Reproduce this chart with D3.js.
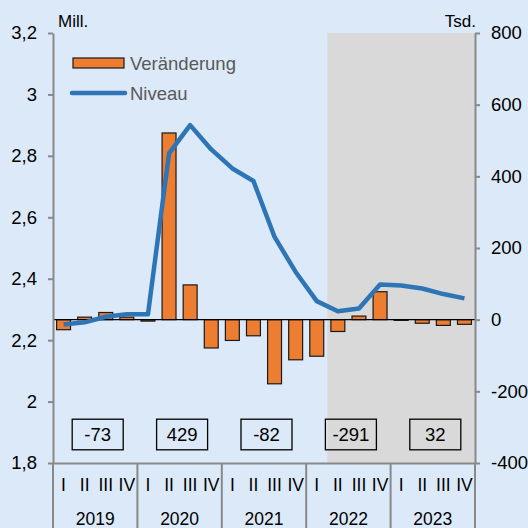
<!DOCTYPE html>
<html>
<meta charset="utf-8">
<style>
    body { margin: 0; background: #dce9f8; }
    svg { display: block; font-family: "Liberation Sans", Arial, sans-serif; }
</style>
<body>
<svg width="528" height="528"></svg>
<script src="https://d3js.org/d3.v7.min.js"></script>
<script>

    // data
    let years = ["2019", "2020", "2021", "2022", "2023"];
    let quarters = ["I", "II", "III", "IV"];
    // Veränderung (Tsd.), one value per quarter
    let changes = [-28, 7, 20, 7, -4, 521, 97, -79, -58, -45, -179, -112, -102, -33, 10, 78, -2, -10, -16, -13];
    // Niveau (Mill.), one value per quarter
    let levels = [2.251, 2.258, 2.276, 2.284, 2.284, 2.808, 2.900, 2.821, 2.759, 2.718, 2.536, 2.422,
        2.327, 2.294, 2.303, 2.381, 2.378, 2.368, 2.350, 2.336];
    // yearly figures shown in the boxes
    let yearBoxes = [-73, 429, -82, -291, 32];
    let leftTicks = [1.8, 2, 2.2, 2.4, 2.6, 2.8, 3, 3.2];
    let rightTicks = [-400, -200, 0, 200, 400, 600, 800];
    let shadeFrom = "2022-II";

    let svg = d3.select("svg"),
        margin = {top: 33, right: 53, bottom: 65, left: 53},
        width = +svg.attr("width") - margin.left - margin.right,
        height = +svg.attr("height") - margin.top - margin.bottom,
        g = svg.append("g").attr("transform", "translate(" + margin.left + "," + margin.top + ")");

    let keys = [];
    years.forEach(function (y) {
        quarters.forEach(function (q) { keys.push(y + "-" + q); });
    });

    let x = d3.scaleBand().domain(keys).range([0, width]).paddingInner(0.34).paddingOuter(0.17);
    let xYear = d3.scaleBand().domain(years).range([0, width]);
    let yL = d3.scaleLinear().domain([1.8, 3.2]).range([height, 0]);
    let yR = d3.scaleLinear().domain([-400, 800]).range([height, 0]);

    let step = x.step();
    let gap = (step - x.bandwidth()) / 2;

    svg.insert("rect", ":first-child")
        .attr("width", 528).attr("height", 528).attr("fill", "#dce9f8");

    // forecast shading
    g.append("rect")
        .attr("x", x(shadeFrom) - gap)
        .attr("y", 0)
        .attr("width", width - (x(shadeFrom) - gap))
        .attr("height", height)
        .attr("fill", "#d9d9d9");

    // bars
    g.append("g")
        .selectAll("rect")
        .data(changes)
        .enter().append("rect")
        .attr("x", function (d, i) { return x(keys[i]); })
        .attr("y", function (d) { return yR(Math.max(0, d)); })
        .attr("width", x.bandwidth())
        .attr("height", function (d) { return Math.abs(yR(d) - yR(0)); })
        .attr("fill", "#ed7d31")
        .attr("stroke", "#1a1a1a")
        .attr("stroke-width", 1.2);

    // zero line
    g.append("line")
        .attr("x1", 0).attr("x2", width)
        .attr("y1", yR(0)).attr("y2", yR(0))
        .attr("stroke", "#000").attr("stroke-width", 1.3);

    // level line
    let line = d3.line()
        .x(function (d, i) { return x(keys[i]) + x.bandwidth() / 2; })
        .y(function (d) { return yL(d); });

    g.append("path")
        .datum(levels)
        .attr("d", line)
        .attr("fill", "none")
        .attr("stroke", "#2e75b6")
        .attr("stroke-width", 4.5)
        .attr("stroke-linejoin", "round");

    // yearly boxes
    let boxes = g.append("g")
        .selectAll("g")
        .data(yearBoxes)
        .enter().append("g")
        .attr("transform", function (d, i) {
            return "translate(" + (xYear(years[i]) + xYear.bandwidth() / 2 + 2.5) + "," + (height - 28.5) + ")";
        });

    boxes.append("rect")
        .attr("x", -25.5).attr("y", -15.3)
        .attr("width", 51).attr("height", 30.6)
        .attr("fill", "none")
        .attr("stroke", "#000")
        .attr("stroke-width", 1.3);

    boxes.append("text")
        .attr("text-anchor", "middle")
        .attr("dy", "0.36em")
        .attr("font-size", 18.5)
        .text(function (d) { return d; });

    // axes
    let axisColor = "#898989";

    let left = g.append("g")
        .call(d3.axisLeft(yL).tickValues(leftTicks).tickSize(5).tickSizeOuter(0).tickPadding(11)
            .tickFormat(function (d) { return String(+d.toFixed(1)).replace(".", ","); }));

    let right = g.append("g")
        .attr("transform", "translate(" + width + ",0)")
        .call(d3.axisRight(yR).tickValues(rightTicks).tickSize(5).tickSizeOuter(0).tickPadding(11)
            .tickFormat(function (d) { return String(d); }));

    [left, right].forEach(function (a) {
        a.selectAll("text").attr("font-size", 18.5).attr("fill", "#000").attr("font-family", null);
        a.selectAll("line").attr("stroke", axisColor).attr("stroke-width", 2);
        a.select(".domain").attr("stroke", axisColor).attr("stroke-width", 2);
    });

    let bottomQ = g.append("g")
        .attr("transform", "translate(0," + height + ")")
        .call(d3.axisBottom(x).tickSize(0).tickPadding(16)
            .tickFormat(function (d) { return d.split("-")[1]; }));
    bottomQ.select(".domain").attr("stroke", axisColor).attr("stroke-width", 2);
    bottomQ.selectAll("text").attr("font-size", 17.5).attr("fill", "#000").attr("font-family", null);

    let bottomY = g.append("g")
        .attr("transform", "translate(0," + (height + 35) + ")")
        .call(d3.axisBottom(xYear).tickSize(0).tickPadding(15));
    bottomY.select(".domain").remove();
    bottomY.selectAll("text").attr("font-size", 17.5).attr("fill", "#000").attr("font-family", null);

    // year separators running down to the bottom edge
    g.append("g")
        .selectAll("line")
        .data(years.concat(["end"]))
        .enter().append("line")
        .attr("x1", function (d, i) { return i < years.length ? xYear(d) : width; })
        .attr("x2", function (d, i) { return i < years.length ? xYear(d) : width; })
        .attr("y1", height)
        .attr("y2", height + margin.bottom)
        .attr("stroke", axisColor)
        .attr("stroke-width", 2);

    // unit labels
    svg.append("text")
        .attr("x", margin.left + 5).attr("y", 27)
        .attr("font-size", 17)
        .text("Mill.");

    svg.append("text")
        .attr("x", margin.left + width + 1).attr("y", 27)
        .attr("text-anchor", "end")
        .attr("font-size", 17)
        .text("Tsd.");

    // legend
    let legend = svg.append("g").attr("font-size", 18.5).attr("fill", "#595959");

    legend.append("rect")
        .attr("x", 73).attr("y", 58)
        .attr("width", 51).attr("height", 10)
        .attr("fill", "#ed7d31")
        .attr("stroke", "#1a1a1a")
        .attr("stroke-width", 1.2);

    legend.append("text")
        .attr("x", 130).attr("y", 69.5)
        .text("Veränderung");

    legend.append("line")
        .attr("x1", 72).attr("x2", 125)
        .attr("y1", 93).attr("y2", 93)
        .attr("stroke", "#2e75b6")
        .attr("stroke-width", 4.5)
        .attr("stroke-linecap", "round");

    legend.append("text")
        .attr("x", 130).attr("y", 99.5)
        .text("Niveau");

</script>
</body>

</html>
